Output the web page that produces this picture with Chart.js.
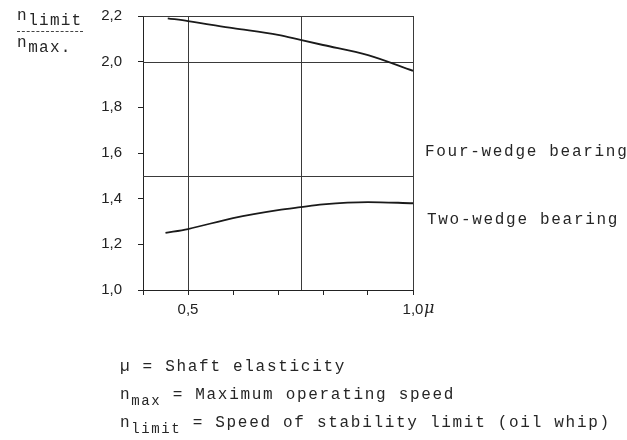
<!DOCTYPE html>
<html>
<head>
<meta charset="utf-8">
<script src="https://cdn.jsdelivr.net/npm/chart.js@4.4.1/dist/chart.umd.min.js"></script>
<style>
  body { margin: 0; background: #fff; }
  #wrap { position: relative; width: 627px; height: 440px; font-family: "Liberation Mono", monospace; color: #262626; }
  #wrap canvas { position: absolute; left: 0; top: 0; }
  .t { position: absolute; white-space: nowrap; font-size: 16px; letter-spacing: 1.7px; line-height: 16px; }
  .t sub { font-size: 14px; letter-spacing: 1.6px; vertical-align: -6px; line-height: 0; }
  .frac { position: absolute; left: 17px; top: 31px; width: 66px; border-top: 1px dashed #444; }
</style>
</head>
<body>
<div id="wrap">
  <canvas id="chart-stability" width="627" height="440"></canvas>

  <div class="t" style="left:17px; top:8px;">n<sub style="font-size:16px; letter-spacing:1.2px; vertical-align:-5px;">limit</sub></div>
  <div class="frac"></div>
  <div class="t" style="left:17px; top:35px;">n<sub style="font-size:16px; letter-spacing:1.2px; vertical-align:-5px;">max.</sub></div>

  <div class="t" style="left:425px; top:144px;">Four-wedge bearing</div>
  <div class="t" style="left:427px; top:212px;">Two-wedge bearing</div>

  <div class="t" style="left:120px; top:359px;">&micro; = Shaft elasticity</div>
  <div class="t" style="left:120px; top:387px;">n<sub>max</sub> = Maximum operating speed</div>
  <div class="t" style="left:120px; top:415px;">n<sub>limit</sub> = Speed of stability limit (oil whip)</div>
</div>

<script>
/* Data */

var fourX = [ 0.455, 0.5, 0.6, 0.7, 0.75, 0.8, 0.9, 1.0 ];
var fourY = [ 2.19, 2.178, 2.147, 2.117, 2.095, 2.073, 2.029, 1.96 ];

var twoX = [ 0.45, 0.5, 0.6, 0.7, 0.75, 0.8, 0.9, 1.0 ];
var twoY = [ 1.25, 1.267, 1.315, 1.35, 1.363, 1.375, 1.385, 1.38 ];

var gridX = [ 0.5, 0.75, 1.0 ];
var gridY = [ 1.5, 2.0, 2.2 ];

var xLabelAt = [ 0.5, 1.0 ];
var xLabelText = [ "0,5", "1,0" ];
var yLabelText = [ "1,0", "1,2", "1,4", "1,6", "1,8", "2,0", "2,2" ];

function points( xs, ys ) {
	return xs.map(function( x, i ){ return { x: x, y: ys[i] }; });
}

/* Reference lines + mu symbol */

var refLines = {
	id: 'refLines',
	beforeDatasetsDraw: function( chart ) {
		var ctx = chart.ctx, a = chart.chartArea, sx = chart.scales.x, sy = chart.scales.y;
		ctx.save();
		ctx.strokeStyle = '#3a3a3a';
		ctx.lineWidth = 1;
		gridX.forEach(function( v ){
			var px = Math.round( sx.getPixelForValue( v ) ) + 0.5;
			ctx.beginPath(); ctx.moveTo( px, a.top ); ctx.lineTo( px, a.bottom ); ctx.stroke();
		});
		gridY.forEach(function( v ){
			var py = Math.round( sy.getPixelForValue( v ) ) + 0.5;
			ctx.beginPath(); ctx.moveTo( a.left, py ); ctx.lineTo( a.right, py ); ctx.stroke();
		});
		ctx.restore();
	},
	afterDraw: function( chart ) {
		var ctx = chart.ctx, sx = chart.scales.x;
		ctx.save();
		ctx.fillStyle = '#222';
		ctx.font = 'italic 16px "DejaVu Serif"';
		ctx.textBaseline = 'middle';
		ctx.fillText( '\u03bc', sx.getPixelForValue( 1.0 ) + 11, 309 );
		ctx.restore();
	}
};

/* Chart */

var tickFont = { family: '"Liberation Sans Narrow", "Liberation Sans"', size: 15 };

var ctxstab = document.getElementById("chart-stability").getContext('2d');
var myChart = new Chart(ctxstab, {
	type: 'scatter',
	data: {
		datasets: [{
			data: points( fourX, fourY ),
			showLine: true,
			borderColor: '#1a1a1a',
			borderWidth: 1.8,
			pointRadius: 0,
			cubicInterpolationMode: 'monotone'
		}, {
			data: points( twoX, twoY ),
			showLine: true,
			borderColor: '#1a1a1a',
			borderWidth: 1.8,
			pointRadius: 0,
			cubicInterpolationMode: 'monotone'
		}]
	},
	options: {
		responsive: false,
		animation: false,
		devicePixelRatio: 1,
		layout: { padding: { top: 16, right: 214, left: 0, bottom: 0 } },
		plugins: { legend: { display: false }, tooltip: { enabled: false } },
		scales: {
			x: {
				type: 'linear', min: 0.4, max: 1.0,
				ticks: {
					stepSize: 0.1, autoSkip: false, maxRotation: 0, padding: 6,
					color: '#222', font: tickFont,
					callback: function( v ) {
						for ( var i = 0; i < xLabelAt.length; i++ ) {
							if ( Math.abs( v - xLabelAt[i] ) < 1e-6 ) return xLabelText[i];
						}
						return '';
					}
				},
				grid: { drawOnChartArea: false, drawTicks: true, tickLength: 5, color: '#222' },
				border: { color: '#222', width: 1 },
				afterFit: function( s ) { s.height = 150; }
			},
			y: {
				min: 1.0, max: 2.2,
				ticks: {
					stepSize: 0.2, padding: 16,
					color: '#222', font: tickFont,
					callback: function( v, i ) { return yLabelText[i]; }
				},
				grid: { drawOnChartArea: false, drawTicks: true, tickLength: 5, color: '#222' },
				border: { color: '#222', width: 1 },
				afterFit: function( s ) {
					s.width = 143;
					s.paddingTop = 0;
					s.paddingBottom = 0;
				}
			}
		}
	},
	plugins: [ refLines ]
});
</script>
</body>
</html>
